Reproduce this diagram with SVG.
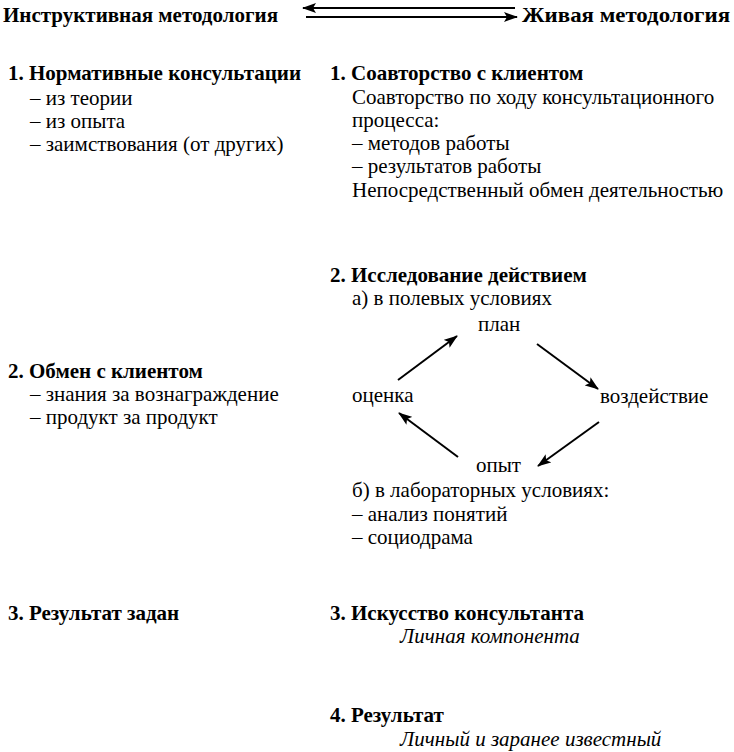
<svg xmlns="http://www.w3.org/2000/svg" width="734" height="752" viewBox="0 0 734 752">
<style>
text{font-family:"Liberation Serif","Times New Roman",serif;font-size:21px;fill:#000}
.b{font-weight:bold}
.h{font-weight:bold;font-size:21px}
.i{font-style:italic}
.c{stroke:#000;stroke-width:2;fill:none}
</style>
<defs>
<marker id="ah" markerWidth="14" markerHeight="10" refX="13" refY="5" orient="auto" markerUnits="userSpaceOnUse">
<path d="M0,0 L14,5 L0,10 L3,5 Z" fill="#000"/>
</marker>
</defs>
<rect width="734" height="752" fill="#fff"/>
<g id="header">
<text class="h" x="3" y="22" textLength="275" lengthAdjust="spacingAndGlyphs">Инструктивная методология</text>
<text class="h" x="522" y="22" textLength="208" lengthAdjust="spacingAndGlyphs">Живая методология</text>
</g>
<g id="left1">
<text class="b" x="8" y="80">1. Нормативные консультации</text>
<text x="30" y="105">– из теории</text>
<text x="30" y="128">– из опыта</text>
<text x="30" y="151">– заимствования (от других)</text>
</g>
<g id="left2">
<text class="b" x="8" y="378">2. Обмен с клиентом</text>
<text x="30" y="401">– знания за вознаграждение</text>
<text x="30" y="424">– продукт за продукт</text>
</g>
<g id="left3">
<text class="b" x="8" y="620">3. Результат задан</text>
</g>
<g id="right1">
<text class="b" x="330" y="80">1. Соавторство с клиентом</text>
<text x="352" y="104">Соавторство по ходу консультационного</text>
<text x="352" y="127">процесса:</text>
<text x="352" y="150">– методов работы</text>
<text x="352" y="173">– результатов работы</text>
<text x="352" y="197">Непосредственный обмен деятельностью</text>
</g>
<g id="right2">
<text class="b" x="330" y="282">2. Исследование действием</text>
<text x="352" y="305">а) в полевых условиях</text>
<text x="352" y="497">б) в лабораторных условиях:</text>
<text x="352" y="521">– анализ понятий</text>
<text x="352" y="544">– социодрама</text>
</g>
<g id="plan"><text x="478" y="331">план</text></g>
<g id="ocenka"><text x="352" y="402">оценка</text></g>
<g id="vozd"><text x="600" y="403">воздействие</text></g>
<g id="opyt"><text x="476" y="472">опыт</text></g>
<g id="right3">
<text class="b" x="330" y="620">3. Искусство консультанта</text>
<text class="i" x="400" y="643">Личная компонента</text>
</g>
<g id="right4">
<text class="b" x="330" y="722">4. Результат</text>
<text class="i" x="400" y="746">Личный и заранее известный</text>
</g>
<g id="connectors">
<line class="c" x1="515" y1="8" x2="303" y2="8" marker-end="url(#ah)"/>
<line class="c" x1="306" y1="17" x2="517" y2="17" marker-end="url(#ah)"/>
<line class="c" x1="398" y1="380" x2="457" y2="336" marker-end="url(#ah)"/>
<line class="c" x1="537" y1="344" x2="598" y2="389" marker-end="url(#ah)"/>
<line class="c" x1="599" y1="422" x2="538" y2="466" marker-end="url(#ah)"/>
<line class="c" x1="458" y1="457" x2="399" y2="413" marker-end="url(#ah)"/>
</g>
</svg>
